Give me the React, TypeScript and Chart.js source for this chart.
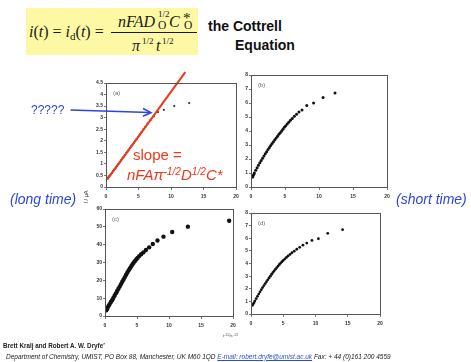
import React, { useEffect, useRef } from 'react';
import { Chart, registerables } from 'chart.js';

Chart.register(...registerables);

// Panel (a): current vs t^-1/2, long-time region
const aX = [12.8, 10.5, 8.9, 8.0, 7.35, 6.85, 6.4, 6.05, 5.75, 5.45, 5.2, 4.95, 4.7, 4.5, 4.3, 4.1, 3.9, 3.7, 3.5, 3.3, 3.1, 2.9, 2.7, 2.5, 2.3, 2.1, 1.9, 1.7, 1.5, 1.3, 1.1, 0.9, 0.7, 0.5, 0.35, 0.2];
const aY = [3.63, 3.5, 3.34, 3.24, 3.05, 2.9, 2.74, 2.6, 2.49, 2.37, 2.27, 2.17, 2.07, 2.0, 1.92, 1.84, 1.77, 1.69, 1.61, 1.53, 1.46, 1.38, 1.3, 1.23, 1.15, 1.07, 0.99, 0.92, 0.84, 0.76, 0.69, 0.61, 0.54, 0.47, 0.42, 0.36];
// Cottrell slope drawn through panel (a)
const slopeX = [0.2, 12.2];
const slopeY = [0.33, 4.97];

// Panel (b)
const bX = [12.35, 10.6, 9.2, 8.2, 7.5, 7.05, 6.7, 6.37, 6.07, 5.8, 5.55, 5.32, 5.1, 4.9, 4.7, 4.5, 4.3, 4.1, 3.9, 3.7, 3.5, 3.3, 3.1, 2.9, 2.7, 2.5, 2.3, 2.1, 1.9, 1.7, 1.5, 1.3, 1.1, 0.9, 0.7, 0.5, 0.4, 0.3, 0.25];
const bY = [6.72, 6.39, 6.0, 5.83, 5.5, 5.35, 5.2, 5.05, 4.9, 4.76, 4.63, 4.5, 4.38, 4.26, 4.13, 4.0, 3.88, 3.76, 3.63, 3.5, 3.37, 3.24, 3.1, 2.96, 2.82, 2.67, 2.52, 2.37, 2.22, 2.06, 1.9, 1.73, 1.56, 1.38, 1.2, 1.0, 0.9, 0.8, 0.72];

// Panel (c)
const cX = [19.4, 12.95, 10.5, 9.14, 8.2, 7.47, 6.9, 6.4, 6.0, 5.65, 5.35, 5.1, 4.9, 4.7, 4.5, 4.3, 4.1, 3.9, 3.7, 3.5, 3.3, 3.1, 2.9, 2.7, 2.5, 2.3, 2.1, 1.9, 1.7, 1.5, 1.3, 1.1, 0.9, 0.7, 0.55, 0.4, 0.3, 0.2];
const cY = [53.4, 50.1, 47.1, 44.5, 42.3, 40.4, 38.5, 37.0, 35.7, 34.6, 33.6, 32.6, 31.8, 30.9, 30.0, 29.0, 27.9, 26.8, 25.6, 24.4, 23.1, 21.8, 20.5, 19.2, 17.9, 16.6, 15.3, 14.0, 12.7, 11.4, 10.1, 8.9, 7.7, 6.5, 5.6, 4.6, 3.9, 3.2];

// Panel (d)
const dX = [14.2, 11.9, 10.45, 9.45, 8.65, 8.05, 7.55, 7.1, 6.7, 6.35, 6.05, 5.75, 5.5, 5.25, 5.0, 4.8, 4.6, 4.4, 4.2, 4.0, 3.8, 3.6, 3.4, 3.2, 3.0, 2.8, 2.6, 2.4, 2.2, 2.0, 1.8, 1.6, 1.4, 1.2, 1.0, 0.8, 0.6, 0.45, 0.3, 0.2];
const dY = [6.68, 6.39, 5.96, 5.83, 5.62, 5.45, 5.28, 5.13, 4.98, 4.85, 4.72, 4.6, 4.48, 4.36, 4.24, 4.14, 4.03, 3.92, 3.8, 3.68, 3.55, 3.42, 3.29, 3.15, 3.0, 2.86, 2.71, 2.56, 2.41, 2.25, 2.09, 1.93, 1.76, 1.58, 1.4, 1.21, 1.02, 0.88, 0.76, 0.68];

// Tick values
const xTickValues = [0, 5, 10, 15, 20];
const aYTicks = [0, 0.5, 1, 1.5, 2, 2.5, 3, 3.5, 4, 4.5];
const bdYTicks = [0, 1, 2, 3, 4, 5, 6, 7, 8];
const cYTicks = [0, 10, 20, 30, 40, 50, 60];

const SANS = '"Liberation Sans", Arial, sans-serif';
const SERIF = '"Liberation Serif", "Times New Roman", serif';
const BLUE = '#2a46e4';
const RED = '#f2361a';

const Y_W = 20;
const X_H = 16;
const PAD_R = 6;

const framePlugin = {
  id: 'frame',
  afterDraw(chart: any, _args: any, opts: any) {
    const { ctx, chartArea: a } = chart;
    ctx.save();
    ctx.strokeStyle = '#555';
    ctx.lineWidth = 1;
    ctx.strokeRect(a.left + 0.5, a.top + 0.5, a.right - a.left, a.bottom - a.top);
    ctx.fillStyle = '#666';
    ctx.font = `6px ${SANS}`;
    ctx.textBaseline = 'middle';
    ctx.fillText(opts.tag, a.left + 7, a.top + 10);
    ctx.restore();
  },
};

type PanelProps = {
  tag: string;
  xs: number[];
  ys: number[];
  yTicks: number[];
  box: [number, number, number, number];
  padTop: number;
  radius: number;
  color: string;
  line?: { xs: number[]; ys: number[] };
};

function Panel({ tag, xs, ys, yTicks, box, padTop, radius, color, line }: PanelProps) {
  const ref = useRef<HTMLCanvasElement>(null);
  const [l, t, r, b] = box;
  const w = r - l + Y_W + PAD_R;
  const h = b - t + padTop + X_H;

  useEffect(() => {
    if (!ref.current) return;
    const datasets: any[] = [];
    if (line) {
      datasets.push({
        type: 'line',
        data: line.xs.map((x, i) => ({ x, y: line.ys[i] })),
        borderColor: RED,
        borderWidth: 2,
        pointRadius: 0,
        clip: false,
        order: 0,
      });
    }
    datasets.push({
      type: 'scatter',
      data: xs.map((x, i) => ({ x, y: ys[i] })),
      pointRadius: radius,
      pointBackgroundColor: color,
      pointBorderWidth: 0,
      showLine: false,
      order: 1,
    });
    const tickFont = { family: SANS, size: 5, weight: 'bold' as const };
    const chart = new Chart(ref.current, {
      type: 'scatter',
      data: { datasets },
      plugins: [framePlugin],
      options: {
        animation: false,
        responsive: false,
        maintainAspectRatio: false,
        events: [],
        layout: { padding: { top: padTop, right: PAD_R, left: 0, bottom: 0 } },
        plugins: {
          legend: { display: false },
          tooltip: { enabled: false },
          frame: { tag },
        } as any,
        scales: {
          x: {
            type: 'linear',
            min: 0,
            max: 20,
            afterBuildTicks: (s: any) => {
              s.ticks = xTickValues.map((v) => ({ value: v }));
            },
            afterFit: (s: any) => {
              s.height = X_H;
              s.paddingLeft = 0;
              s.paddingRight = 0;
            },
            ticks: {
              font: tickFont,
              color: '#333',
              padding: 4,
              maxRotation: 0,
              autoSkip: false,
              callback: (v: any) => String(v),
            },
            grid: { drawOnChartArea: false, tickLength: 3, color: '#777', lineWidth: 1 },
            border: { color: '#555' },
          },
          y: {
            type: 'linear',
            min: 0,
            max: yTicks[yTicks.length - 1],
            afterBuildTicks: (s: any) => {
              s.ticks = yTicks.map((v) => ({ value: v }));
            },
            afterFit: (s: any) => {
              s.width = Y_W;
              s.paddingTop = 0;
              s.paddingBottom = 0;
            },
            ticks: {
              font: tickFont,
              color: '#333',
              padding: 1,
              autoSkip: false,
              callback: (v: any) => String(v),
            },
            grid: { drawOnChartArea: false, tickLength: 2, color: '#777', lineWidth: 1 },
            border: { color: '#555' },
          },
        },
      } as any,
    });
    return () => chart.destroy();
  }, []);

  return (
    <canvas
      ref={ref}
      width={w}
      height={h}
      style={{ position: 'absolute', left: l - Y_W, top: t - padTop, width: w, height: h }}
    />
  );
}

type TxtProps = {
  x: number;
  base: number;
  size: number;
  family?: string;
  style?: React.CSSProperties;
  children: React.ReactNode;
};

function Txt({ x, base, size, family = SANS, style, children }: TxtProps) {
  return (
    <span
      style={{
        position: 'absolute',
        left: x,
        top: base - size * 0.84,
        fontSize: size,
        lineHeight: `${size}px`,
        fontFamily: family,
        whiteSpace: 'nowrap',
        ...style,
      }}
    >
      {children}
    </span>
  );
}

const Sup = ({ children, lift = '0.45em' }: { children: React.ReactNode; lift?: string }) => (
  <span style={{ fontSize: '0.68em', verticalAlign: lift, lineHeight: 0 }}>{children}</span>
);

const EQ = '#1a1a1a';

export default function App() {
  return (
    <div
      style={{
        position: 'absolute',
        left: 0,
        top: 0,
        width: 471,
        height: 362,
        background: '#fff',
        overflow: 'hidden',
      }}
    >
      {/* Cottrell equation */}
      <div style={{ position: 'absolute', left: 26, top: 8, width: 172, height: 47, background: '#fcf8a4' }} />
      <Txt x={29} base={37.5} size={16} family={SERIF} style={{ color: EQ }}>
        <i>i</i>(<i>t</i>) = <i>i</i>
        <span style={{ fontSize: 11, verticalAlign: '-3px', lineHeight: 0 }}>d</span>(<i>t</i>) =
      </Txt>
      <Txt x={118} base={27.5} size={16} family={SERIF} style={{ color: EQ, fontStyle: 'italic' }}>nFAD</Txt>
      <Txt x={158} base={18} size={9} family={SERIF} style={{ color: EQ }}>1/2</Txt>
      <Txt x={158} base={30} size={11.5} family={SERIF} style={{ color: EQ }}>O</Txt>
      <Txt x={169} base={27.5} size={16} family={SERIF} style={{ color: EQ, fontStyle: 'italic' }}>C</Txt>
      <Txt x={183} base={23.5} size={15} family={SERIF} style={{ color: EQ }}>*</Txt>
      <Txt x={184} base={30} size={11.5} family={SERIF} style={{ color: EQ }}>O</Txt>
      <div style={{ position: 'absolute', left: 111, top: 32, width: 86, height: 1, background: EQ }} />
      <Txt x={132} base={51.5} size={16} family={SERIF} style={{ color: EQ, fontStyle: 'italic' }}>π</Txt>
      <Txt x={142} base={44.5} size={9} family={SERIF} style={{ color: EQ }}>1/2</Txt>
      <Txt x={156} base={51.5} size={16} family={SERIF} style={{ color: EQ, fontStyle: 'italic' }}>t</Txt>
      <Txt x={162} base={44.5} size={9} family={SERIF} style={{ color: EQ }}>1/2</Txt>

      <Txt x={208} base={31} size={14} style={{ fontWeight: 'bold', color: '#111' }}>the Cottrell</Txt>
      <Txt x={235} base={50} size={14} style={{ fontWeight: 'bold', color: '#111' }}>Equation</Txt>

      {/* Current–time panels */}
      <Panel tag="(a)" xs={aX} ys={aY} yTicks={aYTicks} box={[106, 83, 236, 187]} padTop={17} radius={1.1} color="#333" line={{ xs: slopeX, ys: slopeY }} />
      <Panel tag="(b)" xs={bX} ys={bY} yTicks={bdYTicks} box={[251, 75, 387, 187]} padTop={6} radius={1.5} color="#111" />
      <Panel tag="(c)" xs={cX} ys={cY} yTicks={cYTicks} box={[105, 209, 233, 316]} padTop={6} radius={2.2} color="#111" />
      <Panel tag="(d)" xs={dX} ys={dY} yTicks={bdYTicks} box={[251, 213, 380, 314]} padTop={6} radius={1.4} color="#111" />

      {/* Axis titles */}
      <div
        style={{
          position: 'absolute',
          left: 75.5,
          top: 193.5,
          width: 20,
          height: 6,
          lineHeight: '6px',
          fontSize: 5.5,
          fontFamily: SANS,
          color: '#333',
          textAlign: 'center',
          transform: 'rotate(-90deg)',
          whiteSpace: 'nowrap',
        }}
      >
        <i>I</i> / μA
      </div>
      <Txt x={223} base={337} size={4} style={{ color: '#444' }}>
        <i>t</i>
        <Sup>−1/2</Sup>/s<Sup>−1/2</Sup>
      </Txt>

      {/* Annotations */}
      <Txt x={31} base={114.5} size={12} style={{ color: BLUE }}>?????</Txt>
      <svg width={471} height={362} style={{ position: 'absolute', left: 0, top: 0, pointerEvents: 'none' }}>
        <line x1={70.5} y1={110} x2={150} y2={112.5} stroke={BLUE} strokeWidth={1.6} />
        <polyline points="143,108.5 151,112.6 143,116.3" fill="none" stroke={BLUE} strokeWidth={1.6} />
      </svg>
      <Txt x={133} base={159.5} size={15} style={{ color: RED }}>slope =</Txt>
      <Txt x={127} base={179.5} size={15} style={{ color: RED, fontStyle: 'italic' }}>
        nFAπ<Sup>-1/2</Sup>D<Sup>1/2</Sup>C*
      </Txt>
      <Txt x={10} base={204} size={14} style={{ color: BLUE, fontStyle: 'italic' }}>(long time)</Txt>
      <Txt x={396} base={204} size={14} style={{ color: BLUE, fontStyle: 'italic' }}>(short time)</Txt>

      {/* Reference */}
      <Txt x={3} base={348} size={6.3} style={{ fontWeight: 'bold', color: '#222' }}>
        Brett Kralj and Robert A. W. Dryfe<Sup>*</Sup>
      </Txt>
      <Txt x={6} base={359} size={6.5} style={{ fontStyle: 'italic', color: '#222' }}>
        Department of Chemistry, UMIST, PO Box 88, Manchester, UK M60 1QD{' '}
        <span style={{ color: '#2a4fd8', textDecoration: 'underline' }}>E-mail: robert.dryfe@umist.ac.uk</span> Fax: + 44
        (0)161 200 4559
      </Txt>
    </div>
  );
}
